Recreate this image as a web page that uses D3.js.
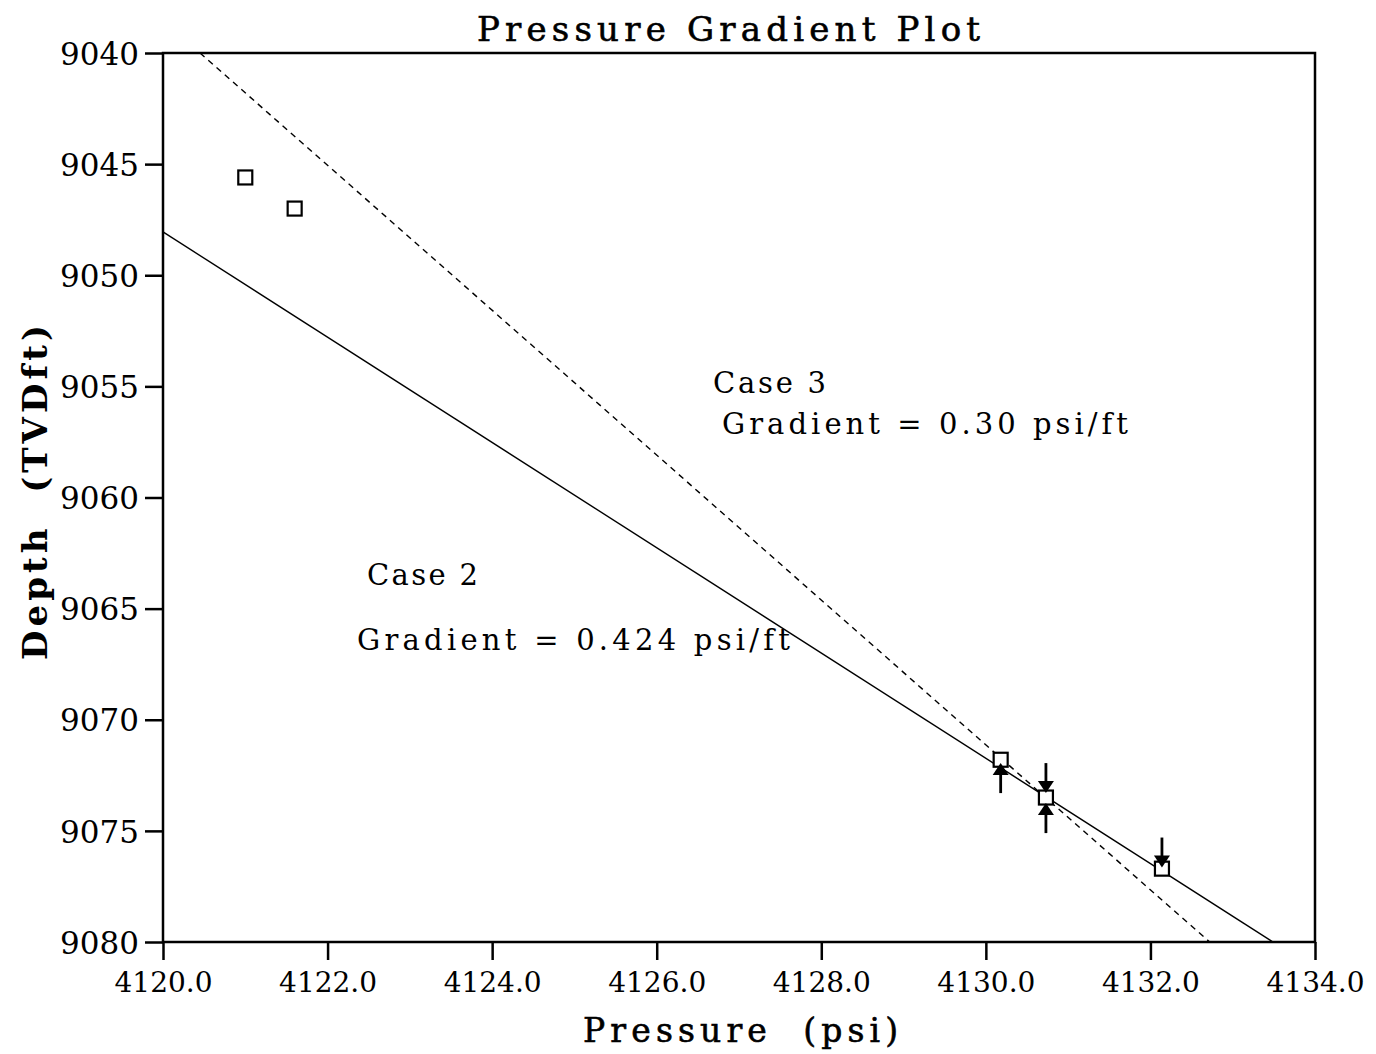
<!DOCTYPE html>
<html>
<head>
<meta charset="utf-8">
<script src="https://cdn.jsdelivr.net/npm/d3@7"></script>
<style>
  body { margin: 0; background: #fff; }
  text { font-family: "DejaVu Serif", serif; fill: #000; }
</style>
</head>
<body>
<div id="chart"></div>
<script>
// measured points (open squares)
var pointPressure = [4121.0, 4121.6, 4130.18, 4130.73, 4132.14];
var pointDepth    = [9045.6, 9047.0, 9071.8, 9073.5, 9076.7];

// arrow markers: tip position and direction
var arrowPressure = [4130.18, 4130.73, 4130.73, 4132.14];
var arrowDepth    = [9071.95, 9073.75, 9073.3, 9076.65];
var arrowDir      = ["up", "up", "down", "down"];

// gradient lines, given by two end points
var case2Pressure = [4120.0, 4133.49];
var case2Depth    = [9048.05, 9080.0];
var case3Pressure = [4120.45, 4132.72];
var case3Depth    = [9040.0, 9080.0];

var xTicks = [4120, 4122, 4124, 4126, 4128, 4130, 4132, 4134];
var yTicks = [9040, 9045, 9050, 9055, 9060, 9065, 9070, 9075, 9080];

var width = 1376, height = 1054;
var margin = {top: 53, right: 61, bottom: 112, left: 163};

var svg = d3.select("#chart").append("svg")
  .attr("width", width)
  .attr("height", height);

var x = d3.scaleLinear().domain([4120, 4134]).range([margin.left, width - margin.right]);
var y = d3.scaleLinear().domain([9040, 9080]).range([margin.top, height - margin.bottom]);

// axes
var xAxis = d3.axisBottom(x).tickValues(xTicks).tickFormat(d3.format(".1f"))
  .tickSize(18).tickSizeOuter(0).tickPadding(12);
var yAxis = d3.axisLeft(y).tickValues(yTicks).tickFormat(d3.format("d"))
  .tickSize(18).tickSizeOuter(0).tickPadding(6);

var gx = svg.append("g").attr("transform", "translate(0," + y(9080) + ")").call(xAxis);
var gy = svg.append("g").attr("transform", "translate(" + x(4120) + ",0)").call(yAxis);

gx.selectAll(".tick line").attr("stroke", "#000").attr("stroke-width", 2.5);
gy.selectAll(".tick line").attr("stroke", "#000").attr("stroke-width", 2.5);
gx.select(".domain").remove();
gy.select(".domain").remove();
gx.selectAll(".tick text").style("font-size", "28px").style("font-family", "DejaVu Serif");
gy.selectAll(".tick text").style("font-size", "31px").style("font-family", "DejaVu Serif")
  .attr("dy", "0.36em");

// frame
svg.append("rect")
  .attr("x", x(4120)).attr("y", y(9040))
  .attr("width", x(4134) - x(4120)).attr("height", y(9080) - y(9040))
  .attr("fill", "none").attr("stroke", "#000").attr("stroke-width", 2.5);

// gradient lines
var line = d3.line().x(function(d) { return x(d[0]); }).y(function(d) { return y(d[1]); });

svg.append("path")
  .datum(d3.zip(case2Pressure, case2Depth))
  .attr("d", line)
  .attr("fill", "none").attr("stroke", "#000").attr("stroke-width", 1.4);

svg.append("path")
  .datum(d3.zip(case3Pressure, case3Depth))
  .attr("d", line)
  .attr("fill", "none").attr("stroke", "#000").attr("stroke-width", 1.4)
  .attr("stroke-dasharray", "6,5");

// squares
svg.selectAll("rect.pt")
  .data(d3.zip(pointPressure, pointDepth))
  .enter().append("rect")
  .attr("class", "pt")
  .attr("x", function(d) { return x(d[0]) - 7; })
  .attr("y", function(d) { return y(d[1]) - 7; })
  .attr("width", 14).attr("height", 14)
  .attr("fill", "#fff").attr("stroke", "#000").attr("stroke-width", 2.2);

// arrows
var arrows = svg.selectAll("g.arrow")
  .data(d3.zip(arrowPressure, arrowDepth, arrowDir))
  .enter().append("g")
  .attr("class", "arrow")
  .attr("transform", function(d) { return "translate(" + x(d[0]) + "," + y(d[1]) + ")"; });

arrows.append("path")
  .attr("d", function(d) {
    return d[2] === "up" ? "M0,0 L-8,12 L8,12 Z" : "M0,0 L-8,-12 L8,-12 Z";
  })
  .attr("fill", "#000");
arrows.append("line")
  .attr("x1", 0).attr("x2", 0)
  .attr("y1", function(d) { return d[2] === "up" ? 10 : -10; })
  .attr("y2", function(d) { return d[2] === "up" ? 30 : -30; })
  .attr("stroke", "#000").attr("stroke-width", 2.8);

// title and axis labels
svg.append("text")
  .attr("x", 477).attr("y", 41)
  .attr("textLength", 503).attr("lengthAdjust", "spacing")
  .style("font-size", "34px").style("stroke", "#000").style("stroke-width", 0.6)
  .text("Pressure Gradient Plot");

svg.append("text")
  .attr("x", 583).attr("y", 1042)
  .attr("textLength", 315).attr("lengthAdjust", "spacing")
  .style("font-size", "33px").style("stroke", "#000").style("stroke-width", 0.6)
  .attr("xml:space", "preserve")
  .text("Pressure  (psi)");

svg.append("text")
  .attr("transform", "translate(47,660) rotate(-90)")
  .attr("textLength", 335).attr("lengthAdjust", "spacing")
  .style("font-size", "34px").style("font-weight", "bold")
  .attr("xml:space", "preserve")
  .text("Depth  (TVDft)");

// annotations
var notes = [
  {t: "Case 3", x0: 713, yb: 393, w: 113},
  {t: "Gradient = 0.30 psi/ft", x0: 722, yb: 434, w: 406},
  {t: "Case 2", x0: 367, yb: 585, w: 111},
  {t: "Gradient = 0.424 psi/ft", x0: 357, yb: 650, w: 433}
];
svg.selectAll("text.note")
  .data(notes)
  .enter().append("text")
  .attr("class", "note")
  .attr("x", function(d) { return d.x0; })
  .attr("y", function(d) { return d.yb; })
  .attr("textLength", function(d) { return d.w; })
  .attr("lengthAdjust", "spacing")
  .style("font-size", "29px")
  .text(function(d) { return d.t; });
</script>
</body>
</html>
